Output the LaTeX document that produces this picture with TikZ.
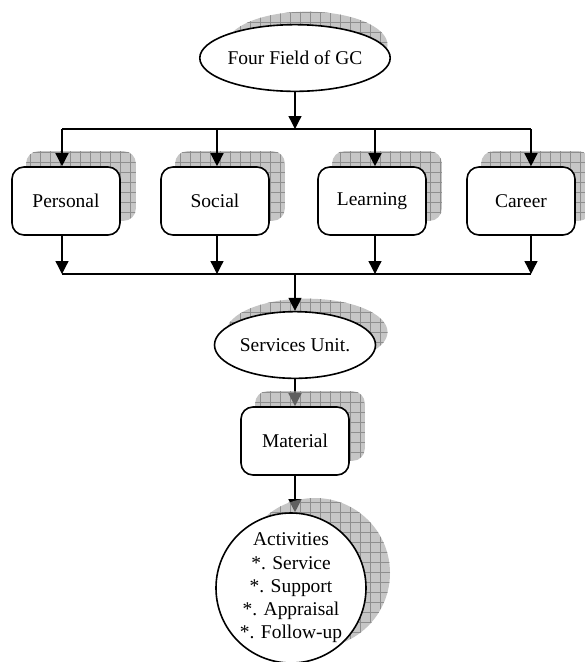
\documentclass[tikz,border=0pt]{standalone}
\usepackage{fontspec}
\setmainfont{Liberation Serif}
\usetikzlibrary{shapes.geometric, arrows.meta, patterns.meta, backgrounds}
\definecolor{shadowgray}{RGB}{160, 160, 160}
\definecolor{gridgray}{RGB}{115, 115, 115}

% the shifted copies behind the nodes
\newcommand{\shadowshapes}[1]{%
    \path[#1] ([shift={(12,-13)}]gc.center) ellipse [x radius=60.4pt, y radius=25pt];
    \path[#1] ([shift={(12,-13)}]unit.center) ellipse [x radius=60.4pt, y radius=25pt];
    \foreach \n in {pers, soc, learn, car, mat}
        \path[#1, rounded corners=9pt] ([shift={(15,-15)}]\n.south west) rectangle ([shift={(15,-15)}]\n.north east);
    \path[#1] ([shift={(24,-15)}]act.center) circle [radius=56.25pt];
}

\begin{document}
\begin{tikzpicture}[x=0.75pt, y=-0.75pt,
    every node/.style={font=\fontsize{14.6}{17.4}\selectfont},
    shadowgrid/.style={pattern={Hatch[distance=7.5pt, angle=0, line width=0.4pt]}, pattern color=gridgray},
    shadowtint/.style={fill=shadowgray, fill opacity=0.6},
    oval/.style={draw, ellipse, line width=1.2pt, fill=white, inner sep=0pt,
        minimum width=120.75pt, minimum height=50pt},
    fieldbox/.style={draw, rectangle, rounded corners=9pt, line width=1.2pt, fill=white,
        minimum width=81pt, minimum height=51pt},
    roundbox/.style={draw, circle, line width=1.2pt, fill=white, inner sep=0pt,
        minimum size=112.5pt, align=center},
    arr/.style={line width=1pt, -{Triangle[length=9.75pt, width=9.75pt]}}]
\useasboundingbox (0,0) rectangle (585,662);

% Top of the chart
\node[oval] (gc) at (295,58) {Four Field of GC};

% The four fields
\foreach \name/\lbl/\xc/\xa in {pers/Personal/66/62, soc/Social/215/217,
                                learn/Learning/372/375, car/Career/521/531} {
    \node[fieldbox] (\name) at (\xc,201) {\lbl};
    \coordinate (\name-top) at (\xa,129);
    \coordinate (\name-bot) at (\xa,274);
    \draw[arr] (\name-top) -- (\name-top |- \name.north);
    \draw[arr] (\name-bot |- \name.south) -- (\name-bot);
}

% Bus lines
\draw[line width=1pt] (pers-top) -- (car-top);
\draw[line width=1pt] (pers-bot) -- (car-bot);
\draw[arr] (gc.south) -- (gc.south |- pers-top);

% Lower part
\node[oval] (unit) at (295,345) {Services Unit.};
\coordinate (hub) at (295,274);
\draw[arr] (hub) -- (unit.north);

\node[fieldbox] (mat) at (295,441) {Material};
\node[roundbox] (act) at (291,588)
    {Activities\\*. Service\\*. Support\\*. Appraisal\\*. Follow-up};

% Shadows, with the two lower arrows under the gray
\begin{scope}[on background layer]
\shadowshapes{shadowgrid}
\draw[arr] (unit.south) -- (unit.south |- mat.north);
\draw[arr] (mat.south) -- (mat.south |- act.north);
\shadowshapes{shadowtint}
\end{scope}
\end{tikzpicture}
\end{document}
